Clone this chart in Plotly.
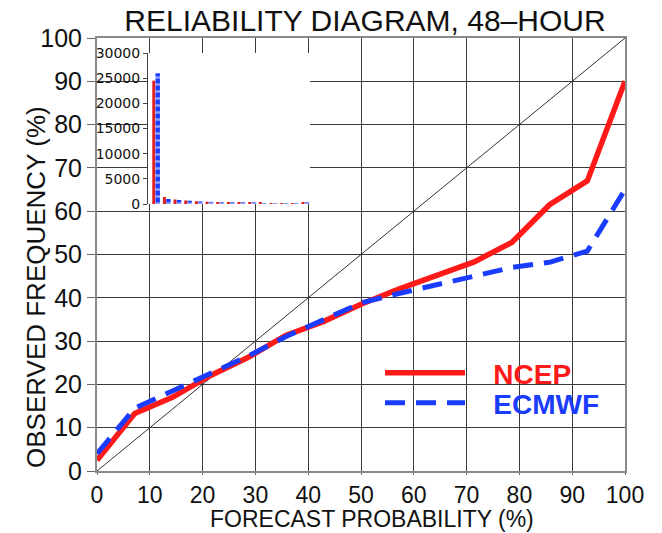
import plotly.graph_objects as go

# ---- data ----
prob_bins = [0, 7.14, 14.29, 21.43, 28.57, 35.71, 42.86, 50, 57.14, 64.29, 71.43, 78.57, 85.71, 92.86, 100]
ncep_freq = [2.5, 13.3, 17.0, 22.0, 26.2, 31.3, 34.5, 38.5, 42.0, 45.0, 48.3, 52.8, 61.5, 67.0, 90.0]
ecmwf_freq = [4.0, 14.5, 18.5, 22.5, 26.5, 31.0, 35.0, 38.8, 41.0, 43.0, 45.2, 47.0, 48.2, 50.8, 65.0]
diag_x = [0, 100]
diag_y = [0, 100]

bin_index = list(range(15))
ncep_counts = [24500, 1400, 900, 700, 550, 450, 380, 320, 270, 230, 200, 170, 150, 130, 250]
ecmwf_counts = [26000, 1000, 800, 650, 520, 430, 360, 300, 260, 220, 190, 160, 140, 120, 200]

x_ticks = [0, 10, 20, 30, 40, 50, 60, 70, 80, 90, 100]
y_ticks = [0, 10, 20, 30, 40, 50, 60, 70, 80, 90, 100]
inset_ticks = [0, 5000, 10000, 15000, 20000, 25000, 30000]

FONT = "Liberation Sans"
RED = "#ff1a1a"
BLUE = "#1a3cff"
NB = "\u00a0"

W, H = 662, 533
PX0, PX1, PY0, PY1 = 97, 625, 471, 38  # plot area in page pixels


def px(x):
    return (x - PX0) / (PX1 - PX0)


def py(y):
    return (PY0 - y) / (PY0 - PY1)


fig = go.Figure()

# diagonal
fig.add_trace(go.Scatter(x=diag_x, y=diag_y, mode="lines",
                         line=dict(color="#333333", width=1), showlegend=False, hoverinfo="skip"))
# reliability curves
fig.add_trace(go.Scatter(x=prob_bins, y=ncep_freq, mode="lines", legend="legend",
                         name=NB * 3 + "<b><span style='color:%s'>NCEP</span></b>" % RED,
                         line=dict(color=RED, width=5.5)))
fig.add_trace(go.Scatter(x=prob_bins, y=ecmwf_freq, mode="lines", legend="legend2",
                         name=NB * 3 + "<b><span style='color:%s'>ECMWF</span></b>" % BLUE,
                         line=dict(color=BLUE, width=5, dash="20px,11px")))

# inset histogram
fig.add_trace(go.Bar(x=bin_index, y=ncep_counts, xaxis="x2", yaxis="y2",
                     width=0.28, offset=-0.3, marker=dict(color="#e02020", line=dict(width=0)),
                     showlegend=False, hoverinfo="skip"))
fig.add_trace(go.Bar(x=bin_index, y=ecmwf_counts, xaxis="x2", yaxis="y2",
                     width=0.42, offset=0.0,
                     marker=dict(color=BLUE, line=dict(width=0),
                                 pattern=dict(shape="-", fgcolor="white", bgcolor=BLUE,
                                              size=7, solidity=0.35)),
                     showlegend=False, hoverinfo="skip"))

axis_common = dict(
    showgrid=True, gridcolor="#3a3a3a", gridwidth=1.3,
    showline=True, linecolor="#8a8a8a", linewidth=2, mirror=True,
    zeroline=False, ticks="outside", tickcolor="#666666", automargin=False,
)

legend_common = dict(xanchor="left", yanchor="middle", bgcolor="rgba(0,0,0,0)",
                     itemwidth=80, font=dict(family=FONT, size=28))

fig.update_layout(
    width=W, height=H,
    margin=dict(l=PX0, r=W - PX1, t=PY1, b=H - PY0, autoexpand=False),
    paper_bgcolor="white", plot_bgcolor="white",
    barmode="overlay",
    title=dict(text="RELIABILITY DIAGRAM, 48\u2013HOUR",
               font=dict(family=FONT, size=30, color="#111111"),
               x=px(365), xanchor="center", xref="paper",
               y=1 - 20 / H, yanchor="middle", yref="container"),
    xaxis=dict(range=[0, 100], tickvals=x_ticks, ticklen=2,
               tickfont=dict(family=FONT, size=23, color="#111111"), **axis_common),
    yaxis=dict(range=[0, 100], tickvals=y_ticks, ticklen=8,
               tickfont=dict(family=FONT, size=25, color="#111111"), **axis_common),
    xaxis2=dict(domain=[px(148), px(310)], anchor="y2", range=[-0.7, 14.5],
                visible=False),
    yaxis2=dict(domain=[py(204), py(53)], anchor="x2", range=[0, 30000],
                tickvals=inset_ticks, tickformat="d", showgrid=False, zeroline=False,
                showline=True, linecolor="#444444", linewidth=1, automargin=False,
                ticks="outside", ticklen=4, tickcolor="#444444",
                tickfont=dict(family="DejaVu Sans", size=14, color="#111111")),
    legend=dict(x=px(380), y=py(373), **legend_common),
    legend2=dict(x=px(380), y=py(403), **legend_common),
    annotations=[
        dict(text="OBSERVED FREQUENCY (%)", textangle=-90,
             xref="paper", yref="paper", x=px(36), y=py(287),
             xanchor="center", yanchor="middle", showarrow=False,
             font=dict(family=FONT, size=26, color="#111111")),
        dict(text="FORECAST PROBABILITY (%)",
             xref="paper", yref="paper", x=px(372), y=py(533),
             xanchor="center", yanchor="bottom", showarrow=False, borderpad=0,
             font=dict(family=FONT, size=23, color="#111111")),
    ],
)

fig.write_html("out.html", config={"displayModeBar": False},
               post_script="document.body.style.margin='0px';")
